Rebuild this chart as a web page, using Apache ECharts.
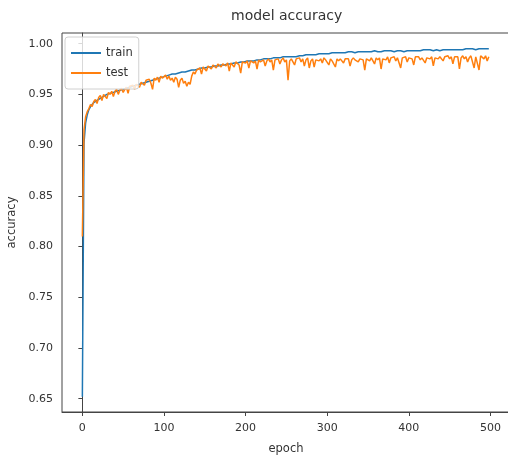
<!DOCTYPE html>
<html>
<head>
<meta charset="utf-8">
<script src="https://cdn.jsdelivr.net/npm/echarts@6/dist/echarts.min.js"></script>
<style>
  html, body { margin: 0; padding: 0; background: #fff; }
  #chart { width: 508px; height: 460px; }
</style>
</head>
<body>
<div id="chart"></div>
<script>
// one value every 2 epochs (epoch 0, 2, 4 ... 498)
const epochStep = 2;

const trainAcc = [
  0.652, 0.902, 0.922, 0.930, 0.935, 0.938, 0.940, 0.942, 0.943, 0.944,
  0.945, 0.946, 0.947, 0.948, 0.949, 0.950, 0.950, 0.951, 0.952, 0.952,
  0.953, 0.953, 0.954, 0.954, 0.955, 0.955, 0.956, 0.956, 0.957, 0.957,
  0.958, 0.958, 0.959, 0.959, 0.960, 0.960, 0.961, 0.961, 0.962, 0.962,
  0.963, 0.963, 0.964, 0.964, 0.965, 0.965, 0.966, 0.966, 0.967, 0.967,
  0.968, 0.968, 0.969, 0.969, 0.969, 0.970, 0.970, 0.970, 0.971, 0.971,
  0.971, 0.972, 0.972, 0.972, 0.973, 0.973, 0.973, 0.974, 0.974, 0.974,
  0.975, 0.975, 0.975, 0.976, 0.976, 0.976, 0.977, 0.977, 0.977, 0.977,
  0.978, 0.978, 0.978, 0.978, 0.979, 0.979, 0.979, 0.979, 0.980, 0.980,
  0.980, 0.980, 0.981, 0.981, 0.981, 0.981, 0.982, 0.982, 0.982, 0.982,
  0.982, 0.983, 0.983, 0.983, 0.983, 0.983, 0.984, 0.984, 0.984, 0.984,
  0.984, 0.985, 0.985, 0.985, 0.985, 0.985, 0.985, 0.986, 0.986, 0.986,
  0.986, 0.986, 0.986, 0.987, 0.987, 0.987, 0.987, 0.987, 0.987, 0.987,
  0.988, 0.987, 0.988, 0.988, 0.988, 0.988, 0.988, 0.989, 0.988, 0.989,
  0.989, 0.989, 0.989, 0.989, 0.989, 0.990, 0.989, 0.990, 0.990, 0.990,
  0.990, 0.990, 0.990, 0.991, 0.990, 0.991, 0.991, 0.991, 0.991, 0.991,
  0.991, 0.991, 0.991, 0.992, 0.991, 0.992, 0.992, 0.991, 0.992, 0.992,
  0.992, 0.992, 0.992, 0.992, 0.991, 0.992, 0.992, 0.992, 0.992, 0.993,
  0.992, 0.992, 0.993, 0.992, 0.993, 0.993, 0.992, 0.993, 0.993, 0.993,
  0.993, 0.992, 0.993, 0.993, 0.993, 0.993, 0.993, 0.992, 0.993, 0.993,
  0.993, 0.993, 0.994, 0.993, 0.993, 0.993, 0.994, 0.993, 0.993, 0.994,
  0.993, 0.994, 0.993, 0.994, 0.994, 0.993, 0.994, 0.994, 0.994, 0.993,
  0.994, 0.994, 0.994, 0.994, 0.993, 0.994, 0.994, 0.994, 0.995, 0.994,
  0.994, 0.994, 0.995, 0.994, 0.994, 0.995, 0.994, 0.995, 0.994, 0.995,
  0.995, 0.994, 0.995, 0.995, 0.994, 0.995, 0.995, 0.995, 0.995, 0.995
];

const testAcc = [
  0.810, 0.915, 0.928, 0.933, 0.936, 0.940, 0.938, 0.943, 0.945, 0.941,
  0.947, 0.949, 0.944, 0.950, 0.951, 0.946, 0.952, 0.950, 0.953, 0.948,
  0.953, 0.955, 0.950, 0.954, 0.956, 0.952, 0.955, 0.957, 0.951, 0.958,
  0.957, 0.959, 0.955, 0.960, 0.961, 0.957, 0.962, 0.963, 0.959, 0.964,
  0.963, 0.965, 0.961, 0.955, 0.966, 0.964, 0.967, 0.962, 0.968, 0.966,
  0.967, 0.969, 0.965, 0.968, 0.964, 0.966, 0.962, 0.967, 0.965, 0.957,
  0.964, 0.966, 0.961, 0.963, 0.958, 0.962, 0.960, 0.968, 0.972, 0.970,
  0.974, 0.973, 0.976, 0.970, 0.977, 0.977, 0.973, 0.978, 0.978, 0.975,
  0.979, 0.979, 0.976, 0.980, 0.980, 0.977, 0.980, 0.981, 0.978, 0.981,
  0.973, 0.981, 0.982, 0.977, 0.982, 0.982, 0.979, 0.971, 0.982, 0.983,
  0.981, 0.983, 0.976, 0.983, 0.984, 0.981, 0.983, 0.975, 0.984, 0.982,
  0.983, 0.984, 0.978, 0.983, 0.985, 0.982, 0.984, 0.974, 0.984, 0.983,
  0.985, 0.980, 0.984, 0.986, 0.982, 0.984, 0.964, 0.983, 0.985, 0.984,
  0.979, 0.985, 0.984, 0.986, 0.982, 0.985, 0.978, 0.984, 0.986, 0.976,
  0.983, 0.985, 0.977, 0.984, 0.985, 0.983, 0.985, 0.981, 0.986, 0.984,
  0.984, 0.979, 0.985, 0.983, 0.984, 0.977, 0.985, 0.983, 0.985, 0.984,
  0.981, 0.985, 0.984, 0.985, 0.978, 0.984, 0.986, 0.984, 0.985, 0.982,
  0.985, 0.986, 0.984, 0.974, 0.985, 0.986, 0.983, 0.986, 0.985, 0.980,
  0.986, 0.984, 0.986, 0.975, 0.985, 0.986, 0.984, 0.987, 0.981, 0.986,
  0.985, 0.987, 0.983, 0.986, 0.987, 0.976, 0.986, 0.985, 0.987, 0.982,
  0.986, 0.987, 0.985, 0.979, 0.987, 0.986, 0.987, 0.984, 0.986, 0.987,
  0.981, 0.986, 0.987, 0.985, 0.987, 0.978, 0.986, 0.987, 0.985, 0.987,
  0.986, 0.983, 0.987, 0.986, 0.988, 0.985, 0.987, 0.980, 0.987, 0.986,
  0.987, 0.975, 0.986, 0.988, 0.985, 0.987, 0.982, 0.986, 0.988, 0.987,
  0.976, 0.987, 0.986, 0.974, 0.988, 0.987, 0.985, 0.988, 0.983, 0.987
];

const xTicks = [0, 100, 200, 300, 400, 500];
const yTicks = [0.65, 0.70, 0.75, 0.80, 0.85, 0.90, 0.95, 1.00];

const font = "DejaVu Sans";
const ink = "#333";

const toPoints = (values) => values.map((v, i) => [i * epochStep, v]);

const chart = echarts.init(document.getElementById("chart"), null, { renderer: "canvas" });

chart.setOption({
  animation: false,
  backgroundColor: "#fff",
  title: {
    text: "model accuracy",
    left: 231,
    top: 9,
    padding: 0,
    textStyle: { fontFamily: font, fontSize: 14, fontWeight: "normal", color: ink },
  },
  legend: {
    orient: "vertical",
    left: 65,
    top: 37,
    padding: [10, 6, 10, 6],
    itemGap: 8,
    itemWidth: 30,
    itemHeight: 2,
    icon: "rect",
    backgroundColor: "rgba(255,255,255,0.8)",
    borderColor: "#d0d0d0",
    borderWidth: 1,
    borderRadius: 3,
    textStyle: { fontFamily: font, fontSize: 11.5, color: ink },
    data: ["train", "test"],
  },
  grid: {
    left: 62,
    right: -2,
    top: 33,
    bottom: 48,
    show: true,
    borderColor: "#444",
    borderWidth: 1,
    containLabel: false,
    outerBoundsMode: "none",
  },
  xAxis: {
    type: "value",
    min: -24.95,
    max: 523.95,
    name: "epoch",
    nameLocation: "middle",
    nameGap: 31,
    nameTextStyle: { fontFamily: font, fontSize: 11.5, color: ink },
    splitLine: { show: false },
    axisLine: { lineStyle: { color: "#444" } },
    axisTick: { customValues: xTicks, length: 4, lineStyle: { color: "#444" } },
    axisLabel: {
      customValues: xTicks,
      margin: 11,
      fontFamily: font,
      fontSize: 11,
      color: ink,
    },
  },
  yAxis: {
    type: "value",
    min: 0.6369,
    max: 1.0105,
    name: "accuracy",
    nameLocation: "middle",
    nameGap: 41,
    nameTextStyle: { fontFamily: font, fontSize: 11.5, color: ink },
    splitLine: { show: false },
    axisLine: { show: true, lineStyle: { color: "#444" } },
    axisTick: { show: true, customValues: yTicks, length: 4, lineStyle: { color: "#444" } },
    axisLabel: {
      customValues: yTicks,
      margin: 9,
      fontFamily: font,
      fontSize: 11,
      color: ink,
      formatter: (v) => v.toFixed(2),
    },
  },
  series: [
    {
      name: "train",
      type: "line",
      data: toPoints(trainAcc),
      showSymbol: false,
      lineStyle: { width: 1.5, color: "#1f77b4" },
      itemStyle: { color: "#1f77b4" },
    },
    {
      name: "test",
      type: "line",
      data: toPoints(testAcc),
      showSymbol: false,
      lineStyle: { width: 1.5, color: "#ff7f0e" },
      itemStyle: { color: "#ff7f0e" },
    },
  ],
});
</script>
</body>
</html>
